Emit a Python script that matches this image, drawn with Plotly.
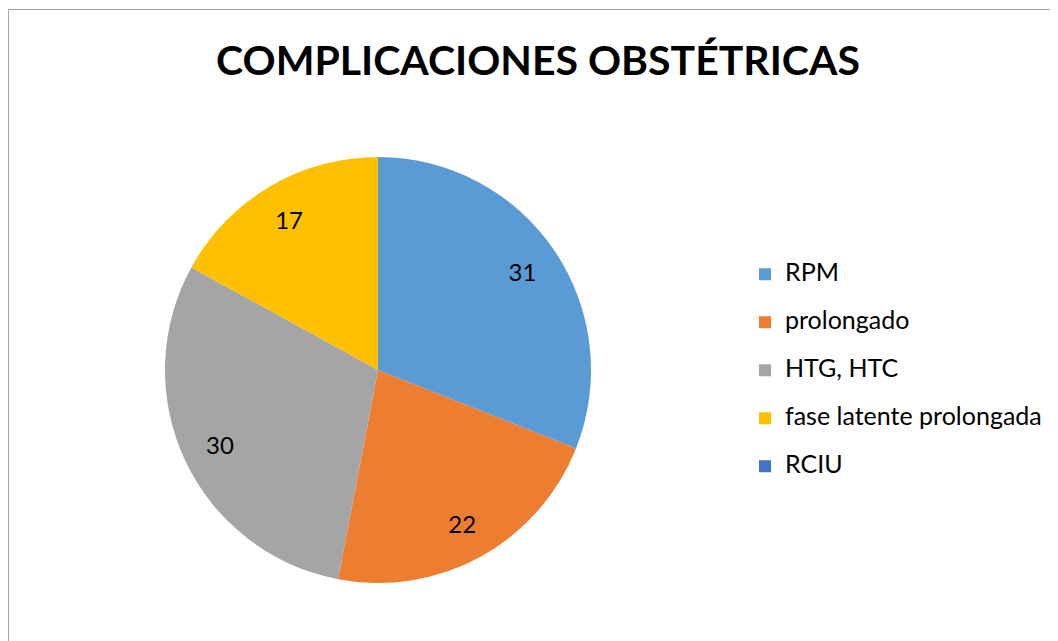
import plotly.graph_objects as go

categories = ["RPM", "prolongado", "HTG, HTC", "fase latente prolongada", "RCIU"]
values = [31, 22, 30, 17, 0]
colors = ["#5B9BD5", "#ED7D31", "#A5A5A5", "#FFC000", "#4472C4"]
title_text = "COMPLICACIONES OBSTÉTRICAS"

W, H = 1058, 641
FONT = "Lato, 'Open Sans', sans-serif"
pie_domain = dict(x=[157 / W, 583 / W], y=[(H - 575) / H, (H - 149) / H])

fig = go.Figure()
# main pie (colours + legend)
fig.add_trace(go.Pie(
    labels=["<span style='font-size:25px'>" + c + "</span><br> " for c in categories],
    values=values,
    customdata=categories,
    marker=dict(colors=colors, line=dict(width=0)),
    sort=False,
    direction="clockwise",
    rotation=0,
    textinfo="none",
    hovertemplate="%{customdata}: %{value}<extra></extra>",
    domain=pie_domain,
))
# transparent ring carrying the data labels near the outer edge
fig.add_trace(go.Pie(
    labels=categories,
    values=values,
    hole=0.64,
    marker=dict(colors=["rgba(0,0,0,0)"] * len(values), line=dict(width=0)),
    sort=False,
    direction="clockwise",
    rotation=0,
    texttemplate="%{value}",
    textposition="inside",
    insidetextorientation="horizontal",
    textfont=dict(family=FONT, size=24, color="#000000"),
    showlegend=False,
    hoverinfo="skip",
    domain=pie_domain,
))

fig.update_layout(
    width=W, height=H,
    margin=dict(l=0, r=0, t=0, b=0),
    paper_bgcolor="white",
    title=dict(text="<b>" + title_text + "</b>", x=530 / W, xanchor="center",
               y=1 - 53 / H, yanchor="middle", yref="container",
               font=dict(family=FONT, size=41, color="#000000")),
    legend=dict(x=737 / W, xanchor="left", y=1 - 248.5 / H, yanchor="top",
                font=dict(family=FONT, size=17.3, color="#000000"),
                valign="top", bgcolor="rgba(0,0,0,0)"),
    shapes=[dict(type="rect", xref="paper", yref="paper",
                 x0=0.5 / W, x1=1.2, y0=-0.2, y1=1 - 1.5 / H,
                 line=dict(color="#A6A6A6", width=1), fillcolor="rgba(0,0,0,0)")],
)

fig.write_html("out.html")
